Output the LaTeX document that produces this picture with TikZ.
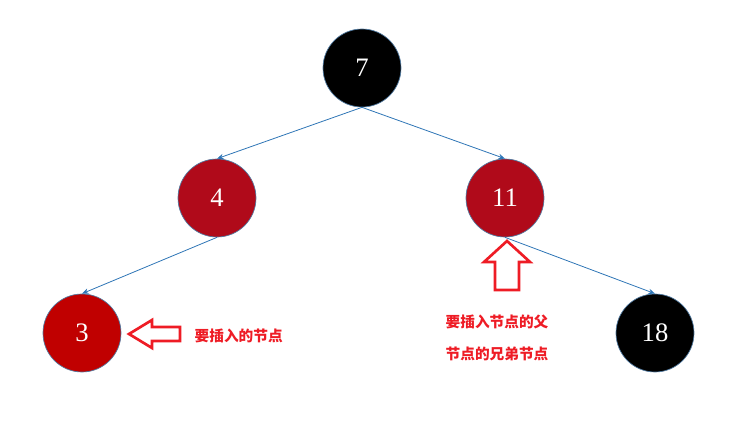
\documentclass[tikz,border=0pt]{standalone}
\usetikzlibrary{arrows.meta}
\usepackage{fontspec}
\setmainfont{Liberation Serif}
\newfontfamily\cjk{Noto Sans CJK SC}
\definecolor{dred}{HTML}{B00A1A}
\definecolor{rred}{HTML}{C00000}
\definecolor{edgeblue}{HTML}{2E75B6}
\definecolor{lab}{HTML}{EE1C25}
\begin{document}
\begin{tikzpicture}[x=0.75pt,y=-0.75pt,
  rb/.style={circle,minimum size=58.5pt,inner sep=0pt,draw=edgeblue!60!gray,line width=0.5pt,text=white,font=\fontsize{20}{20}\selectfont},
  conn/.style={draw=edgeblue,line width=0.6pt,-{Stealth[length=5pt,width=4pt]}},
  hollow/.style={draw=lab,line width=2pt,line join=miter,fill=white},
  lbl/.style={text=lab,font=\cjk\bfseries\fontsize{11}{11}\selectfont}]
\useasboundingbox (0,0) rectangle (743,439);
\node[rb,fill=black] (n7) at (362,68) {7};
\node[rb,fill=dred] (n4) at (217,198) {4};
\node[rb,fill=dred] (n11) at (505,198) {11};
\node[rb,fill=rred] (n3) at (82,333) {3};
\node[rb,fill=black] (n18) at (655,333) {18};
\draw[conn] (n7.south) -- (n4.north);
\draw[conn] (n7.south) -- (n11.north);
\draw[conn] (n4.south) -- (n3.north);
\draw[conn] (n11.south) -- (n18.north);
\draw[hollow] (129,334) -- (152,320) -- (152,327) -- (180,327) -- (180,341) -- (152,341) -- (152,348) -- cycle;
\draw[hollow] (507,241) -- (530,262) -- (519,262) -- (519,290) -- (495,290) -- (495,262) -- (484,262) -- cycle;
\node[lbl,anchor=west] (t1) at (190,336) {要插入的节点};
\node[lbl] (t2) at (497,322) {要插入节点的父};
\node[lbl] (t3) at (497,354) {节点的兄弟节点};
\end{tikzpicture}
\end{document}
